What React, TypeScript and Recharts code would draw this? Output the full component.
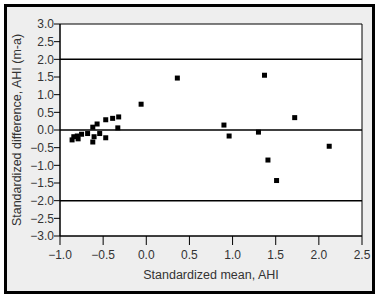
import React from "react";
import {
  ScatterChart,
  Scatter,
  XAxis,
  YAxis,
  ZAxis,
  ReferenceLine,
  ReferenceArea,
} from "recharts";

const meanValues = [
  -0.86, -0.84, -0.8, -0.79, -0.75, -0.68, -0.62, -0.605, -0.62, -0.57,
  -0.54, -0.47, -0.47, -0.39, -0.32, -0.33, -0.06, 0.36, 0.9, 0.96, 1.3,
  1.37, 1.41, 1.51, 1.72, 2.12,
];
const diffValues = [
  -0.28, -0.19, -0.17, -0.25, -0.12, -0.1, -0.34, -0.19, 0.08, 0.17,
  -0.1, -0.22, 0.29, 0.33, 0.37, 0.06, 0.73, 1.47, 0.14, -0.17, -0.06,
  1.55, -0.85, -1.43, 0.35, -0.46,
];
const xTicks = [-1, -0.5, 0, 0.5, 1, 1.5, 2, 2.5];
const yTicks = [3, 2.5, 2, 1.5, 1, 0.5, 0, -0.5, -1, -1.5, -2, -2.5, -3];
const limitLines = [2, 0, -2];

const data = meanValues.map((m, i) => ({ x: m, y: diffValues[i] }));

const fmt = (v: number) => {
  const s = Math.abs(v).toFixed(1);
  return v < 0 ? "\u2212" + s : s;
};

const font = "'Liberation Sans', Arial, sans-serif";
const tickStyle = { fontSize: 12, fill: "#333", fontFamily: font };

const Square = (props: any) => {
  const { cx, cy } = props;
  return <rect x={cx - 2.5} y={cy - 2.5} width={5} height={5} fill="#000" />;
};

export default function App() {
  return (
    <div style={{ position: "absolute", left: 0, top: 0, width: 381, height: 300, background: "#fff" }}>
      <div
        style={{
          position: "absolute",
          left: 4,
          top: 4,
          width: 371,
          height: 290,
          border: "3px solid #000",
          boxSizing: "border-box",
          background: "#eeeeee",
        }}
      />
      <div style={{ position: "absolute", left: 0, top: 0 }}>
        <ScatterChart
          width={381}
          height={300}
          margin={{ top: 24, right: 19, bottom: 24, left: 0 }}
        >
          <ReferenceArea
            x1={-1}
            x2={2.5}
            y1={-3}
            y2={3}
            fill="#fff"
            fillOpacity={1}
            stroke="#000"
            strokeWidth={1}
          />
          <XAxis
            type="number"
            dataKey="x"
            domain={[-1, 2.5]}
            ticks={xTicks}
            tickFormatter={fmt}
            tickSize={9}
            tickMargin={5}
            height={40}
            axisLine={{ stroke: "#000" }}
            tickLine={{ stroke: "#000" }}
            tick={tickStyle}
            label={{
              value: "Standardized mean, AHI",
              position: "insideBottom",
              offset: -3,
              style: { fontSize: 12.5, fill: "#333", fontFamily: font },
            }}
          />
          <YAxis
            type="number"
            dataKey="y"
            domain={[-3, 3]}
            ticks={yTicks}
            tickFormatter={fmt}
            tickSize={6}
            tickMargin={0}
            width={60}
            axisLine={{ stroke: "#000" }}
            tickLine={{ stroke: "#000" }}
            tick={tickStyle}
            interval={0}
            label={{
              value: "Standardized difference, AHI (m-a)",
              angle: -90,
              position: "insideLeft",
              offset: 17,
              style: { fontSize: 12.5, fill: "#333", fontFamily: font, textAnchor: "middle" },
            }}
          />
          <ZAxis range={[25, 25]} />
          {limitLines.map((v) => (
            <ReferenceLine key={v} y={v} stroke="#000" strokeWidth={1.5} />
          ))}
          <Scatter data={data} shape={<Square />} isAnimationActive={false} />
        </ScatterChart>
      </div>
    </div>
  );
}
